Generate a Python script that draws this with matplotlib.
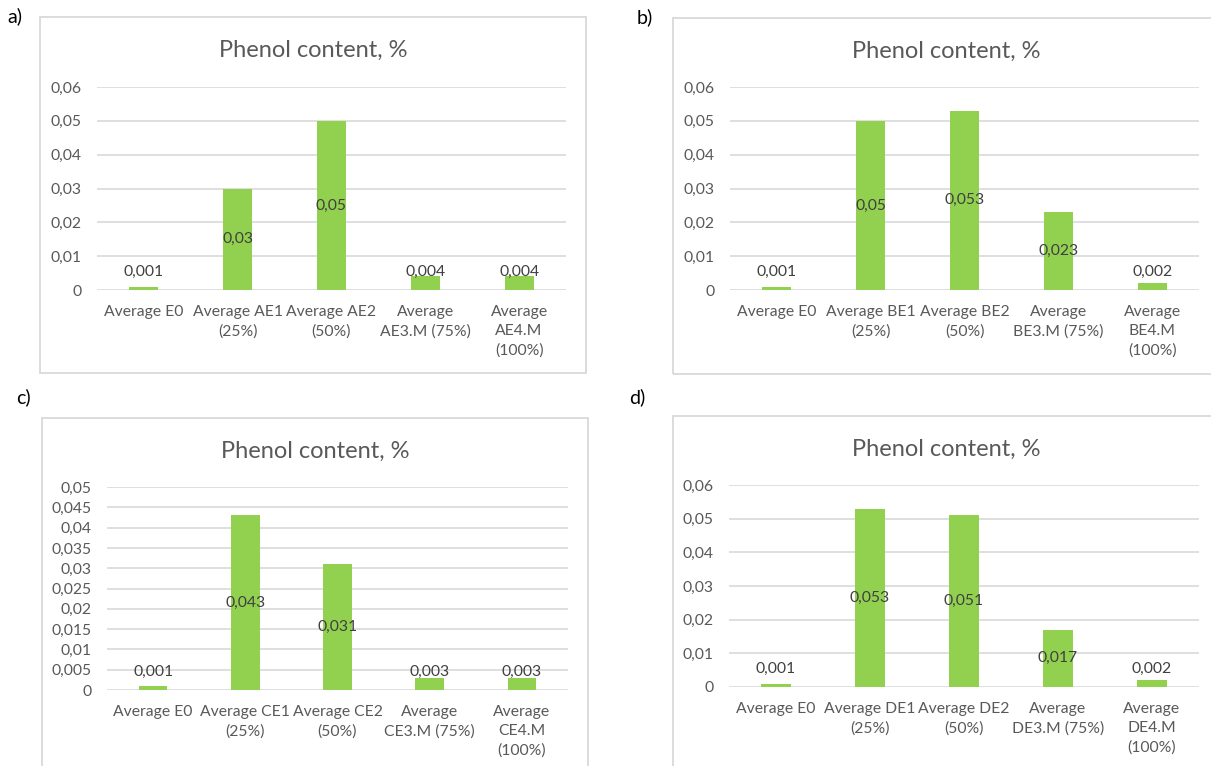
import matplotlib.pyplot as plt
from matplotlib.patches import Rectangle

W, H = 1211, 766

plt.rcParams["font.family"] = ["Lato", "DejaVu Sans"]

BAR_COLOR = "#92D050"
GRID_COLOR = "#D9D9D9"
TEXT_COLOR = "#595959"
LABEL_COLOR = "#404040"

title = "Phenol content, %"

cats_a = ["Average E0", "Average AE1\n(25%)", "Average AE2\n(50%)",
          "Average\nAE3.M (75%)", "Average\nAE4.M\n(100%)"]
vals_a = [0.001, 0.03, 0.05, 0.004, 0.004]

cats_b = ["Average E0", "Average BE1\n(25%)", "Average BE2\n(50%)",
          "Average\nBE3.M (75%)", "Average\nBE4.M\n(100%)"]
vals_b = [0.001, 0.05, 0.053, 0.023, 0.002]

cats_c = ["Average E0", "Average CE1\n(25%)", "Average CE2\n(50%)",
          "Average\nCE3.M (75%)", "Average\nCE4.M\n(100%)"]
vals_c = [0.001, 0.043, 0.031, 0.003, 0.003]

cats_d = ["Average E0", "Average DE1\n(25%)", "Average DE2\n(50%)",
          "Average\nDE3.M (75%)", "Average\nDE4.M\n(100%)"]
vals_d = [0.001, 0.053, 0.051, 0.017, 0.002]

yticks_6 = [0, 0.01, 0.02, 0.03, 0.04, 0.05, 0.06]
ylabels_6 = ["0", "0,01", "0,02", "0,03", "0,04", "0,05", "0,06"]
yticks_5 = [0, 0.005, 0.01, 0.015, 0.02, 0.025, 0.03, 0.035, 0.04, 0.045, 0.05]
ylabels_5 = ["0", "0,005", "0,01", "0,015", "0,02", "0,025", "0,03",
             "0,035", "0,04", "0,045", "0,05"]


def fx(x):
    return x / W


def fy(y):
    return 1 - y / H


def panel(fig, tag, tag_xy, box, plot, cats, vals, yticks, ylabels):
    """Draw one framed bar chart; box and plot are (left, top, right, bottom) in px."""
    l, t, r, b = box
    fig.patches.append(Rectangle((fx(l), fy(b)), (r - l) / W, (b - t) / H,
                                 transform=fig.transFigure, fill=False,
                                 edgecolor=GRID_COLOR, linewidth=1.3))
    fig.text(fx(tag_xy[0]), fy(tag_xy[1]), tag, fontsize=14, color="black",
             ha="left", va="center")
    fig.text(fx((l + r) / 2), fy(t + 33), title, fontsize=17,
             color=TEXT_COLOR, ha="center", va="center")

    pl, pt, pr, pb = plot
    ax = fig.add_axes([fx(pl), fy(pb), (pr - pl) / W, (pb - pt) / H])
    x = range(len(vals))
    ax.bar(x, vals, width=0.31, color=BAR_COLOR, zorder=3)
    ax.set_xlim(-0.5, len(vals) - 0.5)
    ax.set_ylim(0, yticks[-1])
    ax.set_yticks(yticks)
    ax.set_yticklabels(ylabels)
    ax.set_xticks(list(x))
    ax.set_xticklabels(cats, linespacing=1.45, va="top")
    ax.tick_params(axis="both", length=0, colors=TEXT_COLOR, labelsize=11.3)
    ax.tick_params(axis="y", pad=11)
    ax.tick_params(axis="x", pad=11)
    for s in ax.spines.values():
        s.set_visible(False)
    for yv in yticks:
        ax.axhline(yv, color=GRID_COLOR, linewidth=1.2, zorder=1)

    for i, v in enumerate(vals):
        txt = f"{v:g}".replace(".", ",")
        if v >= 0.01:
            ax.text(i, v / 2, txt, ha="center", va="center", fontsize=11.3,
                    color=LABEL_COLOR, zorder=4)
        else:
            ax.annotate(txt, xy=(i, 0), xytext=(0, 13), textcoords="offset points",
                        ha="center", va="center", fontsize=11.3,
                        color=LABEL_COLOR, zorder=4)
    return ax


fig = plt.figure(figsize=(W / 100, H / 100), dpi=100)
fig.patch.set_facecolor("white")

panel(fig, "a)", (7, 16), (40, 17, 586, 373), (97, 87, 566, 290),
      cats_a, vals_a, yticks_6, ylabels_6)
panel(fig, "b)", (637, 17), (673, 18, 1219, 374), (730, 87, 1199, 290),
      cats_b, vals_b, yticks_6, ylabels_6)
panel(fig, "c)", (16, 397), (42, 418, 588, 776), (107, 487, 568, 690),
      cats_c, vals_c, yticks_5, ylabels_5)
panel(fig, "d)", (629, 397), (673, 416, 1219, 776), (729, 485, 1199, 687),
      cats_d, vals_d, yticks_6, ylabels_6)

fig.savefig("out.png", dpi=100)
